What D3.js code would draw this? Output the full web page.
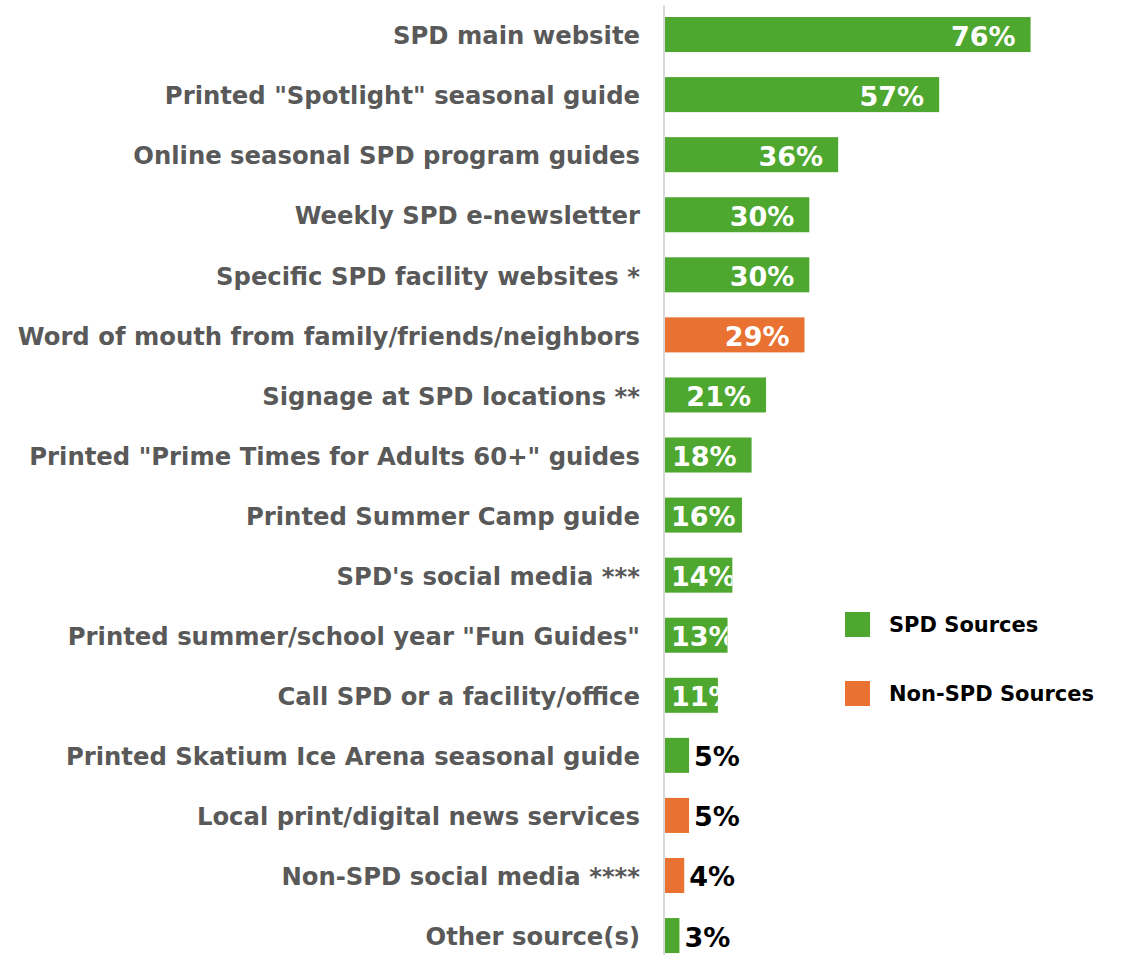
<!DOCTYPE html>
<html>
<head>
<meta charset="utf-8">
<script src="https://cdn.jsdelivr.net/npm/d3@7"></script>
<style>
  body { margin: 0; background: #fff; }
  svg { display: block; }
</style>
</head>
<body>
<div id="chart"></div>
<script>
var categories = [
  'SPD main website',
  'Printed "Spotlight" seasonal guide',
  'Online seasonal SPD program guides',
  'Weekly SPD e-newsletter',
  'Specific SPD facility websites *',
  'Word of mouth from family/friends/neighbors',
  'Signage at SPD locations **',
  'Printed "Prime Times for Adults 60+" guides',
  'Printed Summer Camp guide',
  "SPD's social media ***",
  'Printed summer/school year "Fun Guides"',
  'Call SPD or a facility/office',
  'Printed Skatium Ice Arena seasonal guide',
  'Local print/digital news services',
  'Non-SPD social media ****',
  'Other source(s)'
];
var values = [76, 57, 36, 30, 30, 29, 21, 18, 16, 14, 13, 11, 5, 5, 4, 3];
var sourceType = ['SPD', 'SPD', 'SPD', 'SPD', 'SPD', 'Non-SPD', 'SPD', 'SPD', 'SPD', 'SPD', 'SPD', 'SPD', 'SPD', 'Non-SPD', 'Non-SPD', 'SPD'];
var legendLabels = ['SPD Sources', 'Non-SPD Sources'];

var width = 1126, height = 955;
var svg = d3.select('#chart').append('svg')
    .attr('width', width)
    .attr('height', height);

var color = d3.scaleOrdinal().domain(['SPD', 'Non-SPD']).range(['#4ea72e', '#e97132']);

var x = d3.scaleLinear().domain([0, 100]).range([665, 1146]);
var y = d3.scaleBand().domain(categories).range([4.5, 965.6])
    .paddingInner(0.417).paddingOuter(0.2085);

var data = categories.map(function (c, i) {
    return {name: c, value: values[i], type: sourceType[i], id: i};
});

// clip paths so white labels only show over their bar
var defs = svg.append('defs');
defs.selectAll('clipPath')
    .data(data).enter().append('clipPath')
    .attr('id', function (d) { return 'clip' + d.id; })
    .append('rect')
    .attr('x', x(0))
    .attr('y', function (d) { return y(d.name); })
    .attr('width', function (d) { return x(d.value) - x(0); })
    .attr('height', y.bandwidth());

// bars
svg.append('g').selectAll('rect')
    .data(data).enter().append('rect')
    .attr('x', x(0))
    .attr('y', function (d) { return y(d.name); })
    .attr('width', function (d) { return x(d.value) - x(0); })
    .attr('height', y.bandwidth())
    .attr('fill', function (d) { return color(d.type); });

// axis line
svg.append('line')
    .attr('x1', 664).attr('x2', 664)
    .attr('y1', 5).attr('y2', height)
    .attr('stroke', '#d9d9d9').attr('stroke-width', 2);

// category labels
svg.append('g').selectAll('text')
    .data(data).enter().append('text')
    .attr('x', 640)
    .attr('y', function (d) { return y(d.name) + y.bandwidth() / 2 + 1; })
    .attr('dy', '0.36em')
    .attr('text-anchor', 'end')
    .attr('fill', '#595959')
    .style('font-family', '"DejaVu Sans", sans-serif')
    .style('font-weight', 'bold')
    .style('font-size', '24.3px')
    .text(function (d) { return d.name; });

// value labels
var valueLabels = svg.append('g').selectAll('text')
    .data(data).enter().append('text')
    .attr('y', function (d) { return y(d.name) + y.bandwidth() / 2 + 1; })
    .attr('dy', '0.37em')
    .style('font-family', '"DejaVu Sans", sans-serif')
    .style('font-weight', 'bold')
    .style('font-size', '27px')
    .attr('fill', function (d) { return d.value > 6 ? '#fff' : '#000'; })
    .text(function (d) { return d.value + '%'; });

valueLabels.each(function (d) {
    var w = this.getComputedTextLength();
    var end = x(d.value);
    var px;
    if (d.value > 6) {
        px = end - 15 - w;
        if (px < x(0) + 5) px = x(0) + 6;
        d3.select(this).attr('clip-path', 'url(#clip' + d.id + ')');
    } else {
        px = end + 5;
    }
    d3.select(this).attr('x', px);
});

// legend
var legend = svg.append('g').selectAll('g')
    .data(legendLabels).enter().append('g')
    .attr('transform', function (d, i) { return 'translate(845,' + (612 + i * 69) + ')'; });
legend.append('rect')
    .attr('width', 25).attr('height', 25)
    .attr('fill', function (d, i) { return color.range()[i]; });
legend.append('text')
    .attr('x', 44).attr('y', 12.5).attr('dy', '0.36em')
    .style('font-family', '"DejaVu Sans", sans-serif')
    .style('font-weight', 'bold')
    .style('font-size', '21px')
    .attr('fill', '#000')
    .text(function (d) { return d; });
</script>
</body>
</html>
